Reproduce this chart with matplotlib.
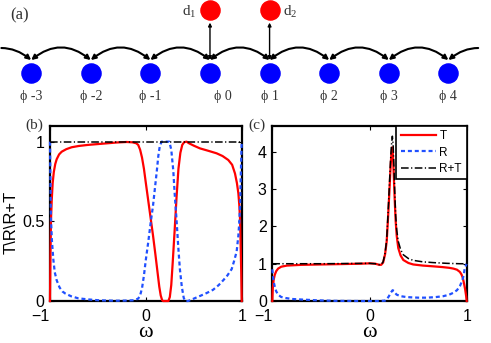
import numpy as np
import matplotlib
matplotlib.use('Agg')
import matplotlib.pyplot as plt
from matplotlib.patches import FancyArrowPatch

plt.rcParams['font.family'] = ['Liberation Sans', 'DejaVu Sans']
plt.rcParams['mathtext.fontset'] = 'custom'
plt.rcParams['mathtext.rm'] = 'Liberation Serif'
SERIF = ['Liberation Serif', 'DejaVu Serif']

# chain sites and the two side dots of the sketch
Sites = [-3, -2, -1, 0, 1, 2, 3, 4]
Dots = [0, 1]
Dot_Names = ['d_1', 'd_2']

# (b) transmission / reflection
w_bT = [-1.0, -0.995, -0.99, -0.982, -0.972, -0.96, -0.945, -0.93, -0.905, -0.878,
        -0.83, -0.774, -0.70, -0.60, -0.50, -0.40, -0.30, -0.20, -0.14, -0.10,
        -0.08, -0.06, -0.04, -0.02, 0.0, 0.025, 0.05, 0.075, 0.10, 0.12,
        0.14, 0.155, 0.17, 0.18, 0.235, 0.25, 0.265, 0.28, 0.30, 0.32,
        0.34, 0.36, 0.38, 0.40, 0.425, 0.45, 0.50, 0.564, 0.65, 0.738,
        0.80, 0.86, 0.90, 0.93, 0.95, 0.965, 0.975, 0.983, 0.99, 0.995, 1.0]
T_b = [0.0, 0.30, 0.50, 0.63, 0.74, 0.81, 0.86, 0.89, 0.92, 0.937,
       0.953, 0.965, 0.973, 0.980, 0.985, 0.990, 0.995, 0.998, 0.996, 0.99,
       0.98, 0.95, 0.90, 0.83, 0.74, 0.63, 0.52, 0.41, 0.29, 0.19,
       0.09, 0.035, 0.005, 0.0, 0.0, 0.025, 0.10, 0.24, 0.44, 0.65,
       0.83, 0.93, 0.98, 0.997, 1.0, 0.99, 0.975, 0.958, 0.943, 0.927,
       0.91, 0.885, 0.855, 0.80, 0.74, 0.676, 0.60, 0.508, 0.32, 0.18, 0.0]
w_bR = [-1.0, -0.995, -0.99, -0.98, -0.965, -0.95, -0.93, -0.90, -0.87, -0.843,
        -0.78, -0.705, -0.60, -0.50, -0.40, -0.30, -0.20, -0.12, -0.08, -0.06,
        -0.04, -0.02, 0.0, 0.025, 0.05, 0.075, 0.095, 0.115, 0.13, 0.146,
        0.165, 0.245, 0.265, 0.286, 0.30, 0.32, 0.338, 0.355, 0.375, 0.395,
        0.41, 0.44, 0.50, 0.57, 0.634, 0.70, 0.76, 0.807, 0.85, 0.895,
        0.92, 0.947, 0.965, 0.975, 0.983, 0.99, 0.995, 1.0]
R_b = [1.0, 0.75, 0.52, 0.38, 0.26, 0.18, 0.13, 0.085, 0.06, 0.048,
       0.03, 0.017, 0.01, 0.005, 0.003, 0.002, 0.003, 0.005, 0.015, 0.035,
       0.08, 0.16, 0.26, 0.37, 0.49, 0.60, 0.71, 0.82, 0.91, 0.975,
       1.0, 1.0, 0.95, 0.82, 0.68, 0.51, 0.34, 0.20, 0.09, 0.02,
       0.0, 0.0, 0.015, 0.033, 0.05, 0.07, 0.10, 0.13, 0.16, 0.20,
       0.25, 0.31, 0.41, 0.50, 0.60, 0.78, 0.90, 1.0]
w_bS = [-1.0, 1.0]
S_b = [1.0, 1.0]

# (c)
w_cT = [-1.0, -0.995, -0.986, -0.975, -0.96, -0.94, -0.908, -0.85, -0.70, -0.50,
        -0.30, -0.10, 0.0, 0.06, 0.10, 0.12, 0.14, 0.16, 0.177, 0.19,
        0.204, 0.215, 0.225, 0.232, 0.24, 0.248, 0.258, 0.269, 0.28, 0.296,
        0.32, 0.348, 0.40, 0.45, 0.55, 0.656, 0.75, 0.82, 0.862, 0.90,
        0.93, 0.947, 0.96, 0.974, 0.985, 0.995, 1.0]
T_c = [0.0, 0.35, 0.57, 0.70, 0.80, 0.87, 0.92, 0.95, 0.97, 0.98,
       0.99, 1.0, 1.01, 1.0, 0.97, 0.97, 1.03, 1.25, 1.6, 2.2,
       2.9, 3.5, 3.95, 4.12, 3.95, 3.5, 2.8, 2.15, 1.75, 1.42,
       1.22, 1.1, 1.02, 0.98, 0.95, 0.93, 0.91, 0.89, 0.87, 0.84,
       0.78, 0.71, 0.62, 0.45, 0.30, 0.12, 0.0]
w_cR = [-1.0, -0.995, -0.986, -0.976, -0.96, -0.94, -0.91, -0.874, -0.80, -0.70,
        -0.55, -0.36, -0.10, 0.10, 0.16, 0.177, 0.20, 0.218, 0.238, 0.25,
        0.265, 0.28, 0.32, 0.37, 0.417, 0.50, 0.59, 0.68, 0.76, 0.82,
        0.862, 0.90, 0.93, 0.955, 0.97, 0.98, 1.0]
R_c = [0.85, 0.70, 0.52, 0.40, 0.26, 0.17, 0.11, 0.085, 0.055, 0.04,
       0.02, 0.005, 0.0, 0.0, 0.01, 0.04, 0.13, 0.22, 0.29, 0.27,
       0.21, 0.17, 0.13, 0.11, 0.10, 0.09, 0.09, 0.105, 0.13, 0.17,
       0.22, 0.29, 0.40, 0.55, 0.70, 0.89, 1.0]
w_cS = [-1.0, -0.5, 0.0, 0.06, 0.10, 0.12, 0.14, 0.16, 0.177, 0.19,
        0.204, 0.215, 0.225, 0.235, 0.243, 0.252, 0.26, 0.269, 0.28, 0.296,
        0.32, 0.348, 0.40, 0.45, 0.55, 0.656, 0.80, 0.93, 1.0]
S_c = [1.0, 1.0, 1.01, 1.0, 0.975, 0.98, 1.05, 1.28, 1.65, 2.3,
       3.07, 3.7, 4.15, 4.42, 4.2, 3.55, 2.9, 2.3, 1.9, 1.6,
       1.38, 1.24, 1.14, 1.09, 1.05, 1.03, 1.01, 1.0, 1.0]

Red, Blue = '#ff0000', '#2050ff'


def draw_chain(ax):
    ax.set_xlim(-3.523, 4.715)
    ax.set_ylim(-0.587, 1.159)
    ax.axis('off')
    top, peak = 0.206, 0.397
    kw = dict(color='k', lw=1.5, shrinkA=0, shrinkB=0, mutation_scale=7)
    for a, b in zip(Sites[:-1], Sites[1:]):
        ax.add_patch(FancyArrowPatch((a, top), (b, top), arrowstyle='<|-|>',
                                     connectionstyle='arc3,rad=-0.4', **kw))
    ax.add_patch(FancyArrowPatch((Sites[0] - 0.5, peak), (Sites[0], top), arrowstyle='-|>',
                                 connectionstyle='angle3,angleA=0,angleB=-39', **kw))
    ax.add_patch(FancyArrowPatch((Sites[-1], top), (Sites[-1] + 0.5, peak), arrowstyle='<|-',
                                 connectionstyle='angle3,angleA=39,angleB=0', **kw))
    for d in Dots:
        ax.add_patch(FancyArrowPatch((d, 0.80), (d, top), arrowstyle='<|-|>', color='k',
                                     lw=1.0, shrinkA=0, shrinkB=0, mutation_scale=5))
    ax.scatter(Sites, np.zeros(len(Sites)), s=190, color='#0000ff', zorder=3)
    ax.scatter(Dots, np.ones(len(Dots)), s=190, color=Red, zorder=3)
    for n in Sites:
        dx = 0.22 if n == 0 else 0.0
        ax.text(n + dx, -0.38, 'ϕ %d' % n, ha='center', va='center',
                fontsize=10, family=SERIF, color='#333333')
    ax.text(Dots[0] - 0.22, 0.97, r'$\mathrm{%s}$' % Dot_Names[0], ha='right',
            va='center', fontsize=11, color='#333333')
    ax.text(Dots[1] + 0.22, 0.97, r'$\mathrm{%s}$' % Dot_Names[1], ha='left',
            va='center', fontsize=11, color='#333333')
    ax.text(-3.2, 0.92, '(a)', ha='center', va='center', fontsize=12,
            family=SERIF, color='#333333')


def style_axes(ax, yticks, ytl, ymax, tag):
    ax.set_xlim(-1, 1)
    ax.set_ylim(0, ymax)
    ax.set_xticks([-1, 0, 1], ['\u22121', '0', '1'])
    ax.get_xticklabels()[0].set_ha('right')
    ax.set_yticks(yticks, ytl)
    ax.tick_params(direction='in', top=True, right=True, length=3, width=0.8,
                   labelsize=11.5)
    ax.tick_params(axis='x', pad=6)
    ax.tick_params(axis='y', pad=4)
    for s in ax.spines.values():
        s.set_linewidth(1.6)
    ax.set_xlabel('ω', family=SERIF, fontsize=16, va='baseline')
    ax.xaxis.set_label_coords(0.5, -0.205)
    ax.text(-0.08, 1.0, tag, transform=ax.transAxes, ha='center', va='center',
            fontsize=11, family=SERIF, color='#333333')


def plot_curves(ax, wT, T, wR, R, wS, S):
    ln = dict(clip_on=False, zorder=3)
    ax.plot(wT, T, color=Red, lw=1.6, label='T', **ln)
    ax.plot(wR, R, color=Blue, lw=1.6, ls=(0, (1.8, 1.3)), label='R', **ln)
    ax.plot(wS, S, color='k', lw=1.1, ls=(0, (5, 1.6, 0.8, 1.6)), label='R+T', **ln)


fig = plt.figure(figsize=(4.91, 3.43), dpi=100)
ax_a = fig.add_axes([0, 0.6793, 1, 0.3207])
draw_chain(ax_a)

ax_b = fig.add_axes([0.1018, 0.1224, 0.3905, 0.511])
plot_curves(ax_b, w_bT, T_b, w_bR, R_b, w_bS, S_b)
style_axes(ax_b, [0, 0.5, 1], ['0', '0.5', '1'], 1.1, '(b)')
ax_b.set_ylabel('T\\R\\R+T', fontsize=12)
ax_b.yaxis.set_label_coords(-0.165, 0.45)

ax_c = fig.add_axes([0.5546, 0.1224, 0.3959, 0.511])
plot_curves(ax_c, w_cT, T_c, w_cR, R_c, w_cS, S_c)
style_axes(ax_c, [0, 1, 2, 3, 4], ['0', '1', '2', '3', '4'], 4.7, '(c)')
leg = ax_c.legend(loc='upper right', bbox_to_anchor=(1, 1), borderaxespad=0,
                  fontsize=8.5, handlelength=3.0, handletextpad=0.3,
                  labelspacing=0.35, borderpad=0.4, fancybox=False, framealpha=1)
leg.get_frame().set_edgecolor('k')
leg.get_frame().set_linewidth(1.2)
leg.set_zorder(5)

fig.savefig('out.png', dpi=100)
